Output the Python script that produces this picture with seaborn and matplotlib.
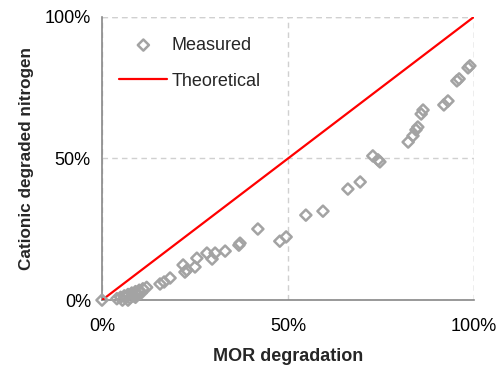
import matplotlib
matplotlib.use("Agg")
import matplotlib.pyplot as plt
import seaborn as sns
import pandas as pd
from matplotlib.ticker import PercentFormatter

# MOR degradation (fraction) vs. cationic degraded nitrogen (fraction)
mor_degradation = [
    0.0, 0.04, 0.05, 0.055, 0.06, 0.065, 0.07, 0.075, 0.08, 0.085, 0.09, 0.095,
    0.10, 0.105, 0.11, 0.12, 0.07, 0.09,
    0.156, 0.167, 0.183, 0.218, 0.223, 0.228, 0.250, 0.255, 0.282, 0.296,
    0.304, 0.331, 0.368, 0.371, 0.419, 0.478, 0.495, 0.548, 0.594, 0.661,
    0.694, 0.728, 0.742, 0.747, 0.823, 0.836, 0.844, 0.849, 0.858, 0.863,
    0.919, 0.930, 0.954, 0.960, 0.984, 0.989,
]
cationic_nitrogen = [
    0.0, 0.005, 0.01, 0.0, 0.015, 0.01, 0.02, 0.008, 0.025, 0.015, 0.03, 0.02,
    0.035, 0.025, 0.04, 0.045, 0.0, 0.01,
    0.057, 0.064, 0.078, 0.124, 0.099, 0.106, 0.117, 0.148, 0.166, 0.145,
    0.166, 0.173, 0.194, 0.201, 0.251, 0.208, 0.223, 0.300, 0.314, 0.392,
    0.417, 0.509, 0.495, 0.488, 0.558, 0.580, 0.601, 0.611, 0.657, 0.671,
    0.689, 0.703, 0.774, 0.781, 0.820, 0.827,
]
theory_x = [0.0, 1.0]
theory_y = [0.0, 1.0]
tick_values = [0.0, 0.5, 1.0]

measured = pd.DataFrame({"x": mor_degradation, "y": cationic_nitrogen})
theory = pd.DataFrame({"x": theory_x, "y": theory_y})

sns.set_style("white")
plt.rcParams["font.family"] = ["Liberation Sans", "DejaVu Sans"]

fig = plt.figure(figsize=(5.0, 3.66), dpi=100)
ax = fig.add_axes([0.204, 0.180, 0.744, 0.774])

sns.lineplot(data=theory, x="x", y="y", ax=ax, color="#ff0000", lw=1.6,
             label="Theoretical", zorder=3)
sns.scatterplot(data=measured, x="x", y="y", ax=ax, marker="D", s=32,
                facecolor="none", edgecolor="#a3a3a3", linewidth=1.8,
                label="Measured", zorder=4, clip_on=False)

ax.set_xlim(0, 1)
ax.set_ylim(0, 1)
ax.set_xticks(tick_values)
ax.set_yticks(tick_values)
ax.xaxis.set_major_formatter(PercentFormatter(1.0, decimals=0))
ax.yaxis.set_major_formatter(PercentFormatter(1.0, decimals=0))

ax.grid(True, linestyle=(0, (4, 3)), color="#d0d0d0", lw=1.0)
for side in ["top", "right"]:
    ax.spines[side].set_visible(False)
for side in ["left", "bottom"]:
    ax.spines[side].set_color("#888888")
    ax.spines[side].set_linewidth(1.2)
    ax.spines[side].set_zorder(2)
# dashed frame edges at 100%
ax.axhline(1.0, linestyle=(0, (4, 3)), color="#d0d0d0", lw=1.0, zorder=0)
ax.axvline(1.0, linestyle=(0, (4, 3)), color="#d0d0d0", lw=1.0, zorder=0)

ax.tick_params(axis="both", direction="out", length=5, width=1.2,
               color="#888888", labelsize=13, labelcolor="#000000")
ax.tick_params(axis="x", pad=8)
ax.tick_params(axis="y", pad=3)

ax.set_xlabel("MOR degradation", fontsize=13, fontweight="bold", labelpad=9.5)
ax.set_ylabel("Cationic degraded nitrogen", fontsize=12.3, fontweight="bold",
              labelpad=8)

handles, labels = ax.get_legend_handles_labels()
order = [labels.index("Measured"), labels.index("Theoretical")]
ax.legend([handles[i] for i in order], [labels[i] for i in order],
          loc="upper left", bbox_to_anchor=(0.027, 0.955), frameon=False,
          fontsize=13, handlelength=2.67, handletextpad=0.22,
          labelspacing=1.05, borderaxespad=0.0)

fig.savefig("out.png", dpi=100)
